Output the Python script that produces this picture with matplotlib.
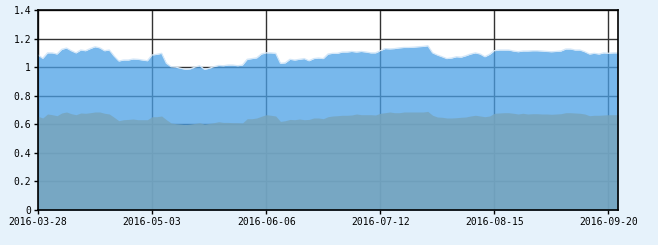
import numpy as np
import matplotlib
matplotlib.use("Agg")
import matplotlib.pyplot as plt

# 数据 (按交易日, 2016-03-28 起)
upper = [1.085, 1.062, 1.10, 1.10, 1.092, 1.125, 1.134, 1.115, 1.10, 1.12,
         1.115, 1.13, 1.143, 1.135, 1.115, 1.12, 1.078, 1.043, 1.05, 1.05,
         1.057, 1.055, 1.05, 1.045, 1.085, 1.09, 1.097, 1.027, 1.003, 1.0,
         0.992, 0.985, 0.988, 1.0, 1.01, 0.985, 0.992, 1.003, 1.012, 1.01,
         1.015, 1.015, 1.01, 1.015, 1.055, 1.06, 1.065, 1.092, 1.10, 1.10,
         1.097, 1.027, 1.03, 1.055, 1.05, 1.055, 1.06, 1.045, 1.06, 1.064,
         1.06, 1.092, 1.097, 1.097, 1.106, 1.106, 1.11, 1.106, 1.11, 1.106,
         1.10, 1.10, 1.115, 1.13, 1.128, 1.13, 1.135, 1.138, 1.138, 1.14,
         1.143, 1.145, 1.15, 1.10, 1.085, 1.073, 1.06, 1.064, 1.073, 1.07,
         1.08, 1.092, 1.10, 1.092, 1.073, 1.09, 1.115, 1.12, 1.12, 1.12,
         1.113, 1.108, 1.113, 1.113, 1.115, 1.115, 1.113, 1.11, 1.108, 1.11,
         1.113, 1.127, 1.127, 1.12, 1.12, 1.108, 1.092, 1.097, 1.092, 1.10,
         1.097, 1.10, 1.10]
lower = [0.656, 0.644, 0.672, 0.667, 0.66, 0.679, 0.686, 0.674, 0.667, 0.679,
         0.677, 0.681, 0.686, 0.686, 0.677, 0.672, 0.649, 0.625, 0.632, 0.634,
         0.637, 0.632, 0.632, 0.632, 0.653, 0.653, 0.658, 0.632, 0.609, 0.604,
         0.601, 0.597, 0.601, 0.606, 0.611, 0.601, 0.606, 0.611, 0.618, 0.613,
         0.613, 0.611, 0.611, 0.609, 0.639, 0.639, 0.644, 0.656, 0.667, 0.663,
         0.658, 0.62, 0.625, 0.634, 0.632, 0.637, 0.632, 0.634, 0.644, 0.644,
         0.639, 0.653, 0.658, 0.66, 0.663, 0.663, 0.665, 0.672, 0.667, 0.667,
         0.667, 0.665, 0.677, 0.681, 0.686, 0.681, 0.681, 0.686, 0.686, 0.686,
         0.686, 0.686, 0.69, 0.663, 0.651, 0.649, 0.644, 0.644, 0.646, 0.649,
         0.651, 0.658, 0.663, 0.658, 0.653, 0.658, 0.677, 0.679, 0.681, 0.681,
         0.677, 0.672, 0.677, 0.672, 0.674, 0.674, 0.672, 0.672, 0.67, 0.672,
         0.674, 0.681, 0.681, 0.679, 0.677, 0.672, 0.66, 0.663, 0.663, 0.665,
         0.667, 0.667, 0.667]
tick_labels = ["2016-03-28", "2016-05-03", "2016-06-06",
               "2016-07-12", "2016-08-15", "2016-09-20"]
tick_step = 24

x = np.arange(len(upper))

fig = plt.figure(figsize=(6.58, 2.45), dpi=100, facecolor="#e6f2fb")
ax = fig.add_axes([38 / 658, 35 / 245, 580 / 658, 200 / 245])
ax.set_facecolor("white")

ax.set_axisbelow(True)
ax.grid(True, color="#333333", linewidth=1)

ax.fill_between(x, 0, upper, color="#4ba0e6", alpha=0.75, linewidth=0, zorder=2)
ax.plot(x, upper, color="#d4e7f8", linewidth=0.9, zorder=3)
ax.fill_between(x, 0, lower, color="#77a4bc", alpha=0.85, linewidth=0, zorder=4)

ax.set_xlim(0, len(upper) - 1)
ax.set_ylim(0, 1.4)
ax.set_xticks(np.arange(len(tick_labels)) * tick_step)
ax.set_xticklabels(tick_labels)
ax.set_yticks(np.arange(0, 1.41, 0.2))
ax.set_yticklabels(["%g" % round(v, 1) for v in np.arange(0, 1.41, 0.2)])

for s in ax.spines.values():
    s.set_color("black")
    s.set_linewidth(1.2)
    s.set_zorder(5)

ax.tick_params(axis="both", colors="black", labelsize=7, length=3, width=1)
ax.tick_params(axis="x", pad=2)
ax.tick_params(axis="y", pad=2)
for lab in ax.get_xticklabels() + ax.get_yticklabels():
    lab.set_family("DejaVu Sans Mono")

fig.savefig("out.png", dpi=100, facecolor=fig.get_facecolor())
